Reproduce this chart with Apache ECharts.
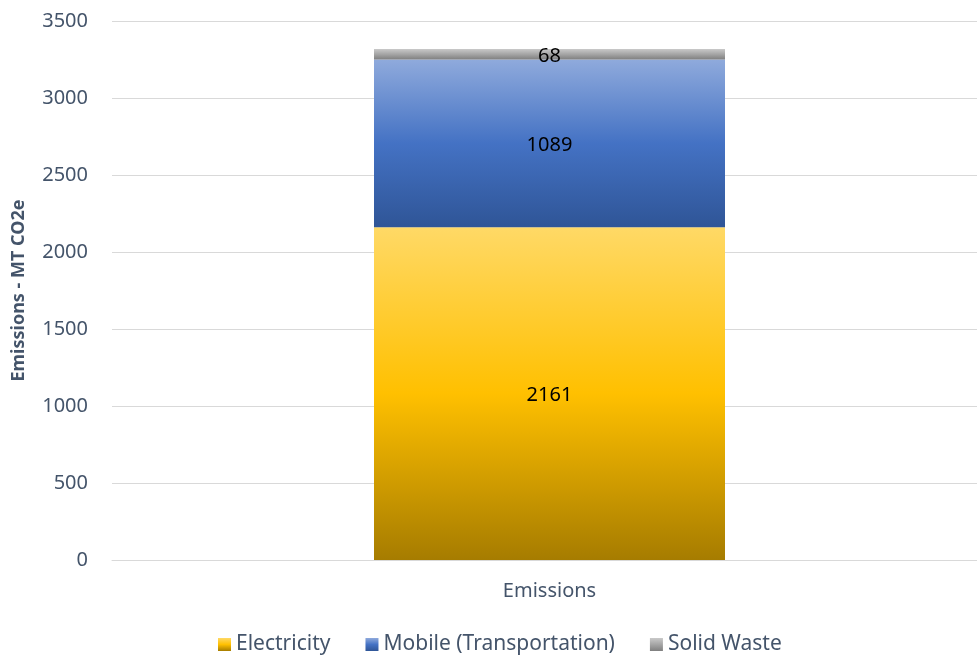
<!DOCTYPE html>
<html>
<head>
<meta charset="utf-8">
<script src="https://cdn.jsdelivr.net/npm/echarts@6/dist/echarts.min.js"></script>
<style>
  html, body { margin: 0; padding: 0; background: #fff; }
  #chart { width: 977px; height: 656px; }
</style>
</head>
<body>
<div id="chart"></div>
<script>
// Emissions breakdown by source (MT CO2e)
const categories = ['Emissions'];
const seriesNames = ['Electricity', 'Mobile (Transportation)', 'Solid Waste'];
const electricity = [2161];
const mobile = [1089];
const solidWaste = [68];
const yTicks = { min: 0, max: 3500, interval: 500 };

const FONT = '"Noto Sans", "Open Sans", sans-serif';
const TEXT = '#44546a';

function vGrad(top, mid, bottom) {
  return new echarts.graphic.LinearGradient(0, 0, 0, 1, [
    { offset: 0, color: top },
    { offset: 0.5, color: mid },
    { offset: 1, color: bottom }
  ]);
}

const fills = [
  vGrad('#ffd966', '#ffc000', '#a67c00'),
  vGrad('#8faadc', '#4472c4', '#2f5597'),
  vGrad('#c9c9c9', '#a5a5a5', '#7f7f7f')
];

const dataSets = [electricity, mobile, solidWaste];

const chart = echarts.init(document.getElementById('chart'), null, { renderer: 'canvas' });

chart.setOption({
  animation: false,
  textStyle: { fontFamily: FONT },
  grid: {
    left: 112, top: 21, width: 875, height: 539,
    containLabel: false,
    outerBoundsMode: 'none'
  },
  legend: {
    top: 629,
    left: 213,
    itemWidth: 13,
    itemHeight: 13,
    itemGap: 35,
    icon: 'rect',
    textStyle: { color: TEXT, fontSize: 21, fontFamily: FONT },
    data: seriesNames
  },
  xAxis: {
    type: 'category',
    data: categories,
    axisLine: { show: true, lineStyle: { color: '#d9d9d9', width: 1 } },
    axisTick: { show: false },
    axisLabel: { color: TEXT, fontSize: 20, margin: 21 }
  },
  yAxis: {
    type: 'value',
    min: yTicks.min,
    max: yTicks.max,
    interval: yTicks.interval,
    name: 'Emissions - MT CO2e',
    nameLocation: 'middle',
    nameGap: 84,
    nameTextStyle: { color: TEXT, fontSize: 18, fontWeight: 'bold' },
    axisLine: { show: false },
    axisTick: { show: false },
    axisLabel: { color: TEXT, fontSize: 20, margin: 24, formatter: v => String(v) },
    splitLine: { lineStyle: { color: '#d9d9d9', width: 1 } }
  },
  series: seriesNames.map((name, i) => ({
    name: name,
    type: 'bar',
    stack: 'total',
    barWidth: 351,
    data: dataSets[i],
    itemStyle: { color: fills[i] },
    label: {
      show: true,
      position: 'inside',
      offset: [0, 2],
      color: '#000',
      fontSize: 20,
      fontFamily: FONT
    }
  }))
});
</script>
</body>
</html>
